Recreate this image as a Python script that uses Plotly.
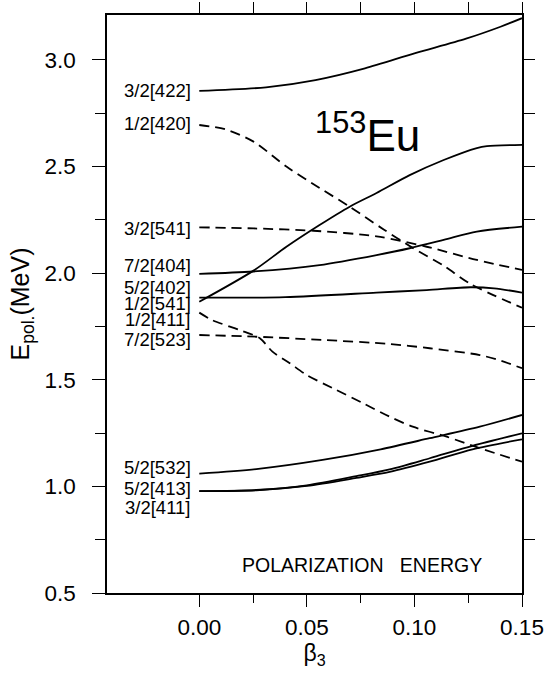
import plotly.graph_objects as go

# ---- data ----
b_422 = [0, 0.031, 0.054, 0.077, 0.100, 0.124, 0.140, 0.15]
e_422 = [2.855, 2.872, 2.906, 2.961, 3.031, 3.100, 3.156, 3.196]

b_420 = [0, 0.012, 0.0252, 0.0405, 0.0559, 0.0699, 0.0857, 0.0990, 0.1136, 0.126, 0.15]
e_420 = [2.695, 2.675, 2.617, 2.500, 2.400, 2.312, 2.205, 2.120, 2.035, 1.950, 1.838]

b_541s = [0, 0.0252, 0.0405, 0.0559, 0.0699, 0.0824, 0.0978, 0.1136, 0.129, 0.1337, 0.15]
e_541s = [1.866, 2.012, 2.124, 2.226, 2.312, 2.376, 2.460, 2.531, 2.587, 2.596, 2.602]

b_541d = [0, 0.0252, 0.0531, 0.0824, 0.1057, 0.129, 0.15]
e_541d = [2.215, 2.210, 2.199, 2.173, 2.124, 2.062, 2.015]

b_404 = [0, 0.0252, 0.0559, 0.0824, 0.0978, 0.1136, 0.129, 0.15]
e_404 = [1.997, 2.008, 2.038, 2.085, 2.117, 2.156, 2.195, 2.218]

b_402 = [0, 0.04, 0.0824, 0.1057, 0.126, 0.137, 0.15]
e_402 = [1.885, 1.888, 1.909, 1.921, 1.934, 1.929, 1.909]

b_411 = [0, 0.006, 0.0186, 0.028, 0.034, 0.0419, 0.0498, 0.062, 0.0759, 0.0885, 0.0992, 0.115, 0.1304, 0.15]
e_411 = [1.815, 1.780, 1.734, 1.696, 1.632, 1.579, 1.523, 1.461, 1.391, 1.327, 1.280, 1.233, 1.179, 1.116]

b_523 = [0, 0.0265, 0.0573, 0.0885, 0.1071, 0.1304, 0.140, 0.15]
e_523 = [1.710, 1.702, 1.687, 1.668, 1.648, 1.616, 1.590, 1.554]

b_532 = [0, 0.0265, 0.0573, 0.0843, 0.1071, 0.1304, 0.15]
e_532 = [1.060, 1.081, 1.124, 1.174, 1.226, 1.280, 1.335]

b_413 = [0, 0.0265, 0.05, 0.073, 0.0885, 0.1071, 0.127, 0.15]
e_413 = [0.978, 0.983, 1.005, 1.048, 1.080, 1.132, 1.190, 1.249]

b_411b = [0, 0.0265, 0.05, 0.073, 0.0885, 0.1071, 0.127, 0.15]
e_411b = [0.978, 0.982, 1.002, 1.040, 1.068, 1.116, 1.174, 1.221]

label_texts = ["3/2[422]", "1/2[420]", "3/2[541]", "7/2[404]", "5/2[402]", "1/2[541]",
               "1/2[411]", "7/2[523]", "5/2[532]", "5/2[413]", "3/2[411]"]
label_e = [2.859, 2.704, 2.210, 2.038, 1.935, 1.860, 1.785, 1.687, 1.091, 0.992, 0.899]

x_major = [0.0, 0.05, 0.10, 0.15]
x_major_text = ["0.00", "0.05", "0.10", "0.15"]
x_minor = [0.025, 0.075, 0.125]
x_top = [0.0, 0.025, 0.05, 0.075, 0.10, 0.125, 0.15]
y_major = [0.5, 1.0, 1.5, 2.0, 2.5, 3.0]
y_major_text = ["0.5", "1.0", "1.5", "2.0", "2.5", "3.0"]
y_minor = [0.75, 1.25, 1.75, 2.25, 2.75]
y_right = [0.75, 1.0, 1.25, 1.5, 1.75, 2.0, 2.25, 2.5, 2.75, 3.0]

X_RANGE = [-0.0429, 0.15]
Y_RANGE = [0.5, 3.211]

FONT = "Liberation Sans, Arial, Helvetica, sans-serif"
DASH = "10px,6px"

curves = [
    (b_422, e_422, "solid"),
    (b_420, e_420, DASH),
    (b_541s, e_541s, "solid"),
    (b_541d, e_541d, DASH),
    (b_404, e_404, "solid"),
    (b_402, e_402, "solid"),
    (b_411, e_411, DASH),
    (b_523, e_523, DASH),
    (b_532, e_532, "solid"),
    (b_413, e_413, "solid"),
    (b_411b, e_411b, "solid"),
]

fig = go.Figure()
for bx, ey, dash in curves:
    fig.add_trace(go.Scatter(
        x=bx, y=ey, mode="lines",
        line=dict(color="black", width=1.8, dash=dash, shape="spline", smoothing=0.8),
        showlegend=False, hoverinfo="skip"))

# invisible trace for top/right tick axes
fig.add_trace(go.Scatter(x=[0.0], y=[1.0], xaxis="x2", yaxis="y2", mode="markers",
                         marker=dict(opacity=0), showlegend=False, hoverinfo="skip"))

for t, e in zip(label_texts, label_e):
    fig.add_annotation(x=-0.003, y=e, text=t, showarrow=False, xanchor="right",
                       yanchor="middle", font=dict(family=FONT, size=18.5, color="black"))

fig.add_annotation(x=0.0783, y=2.66, text="<sup>153</sup>Eu", showarrow=False,
                   xanchor="center", yanchor="middle",
                   font=dict(family=FONT, size=44, color="black"))
fig.add_annotation(x=0.0755, y=0.631, text="POLARIZATION&nbsp;&nbsp;&nbsp;ENERGY", showarrow=False,
                   xanchor="center", yanchor="middle",
                   font=dict(family=FONT, size=19.5, color="black"))

fig.update_layout(
    width=547, height=677,
    margin=dict(l=107, r=25, t=15, b=84, autoexpand=False),
    paper_bgcolor="white", plot_bgcolor="white",
    font=dict(family=FONT, color="black"),
    xaxis=dict(range=X_RANGE, showgrid=False, zeroline=False, automargin=False,
               showline=True, linecolor="black", linewidth=1.5, mirror=True,
               tickmode="array", tickvals=x_major, ticktext=x_major_text,
               ticks="outside", ticklen=12, tickwidth=1.3, tickcolor="black",
               ticklabelstandoff=1,
               minor=dict(tickmode="array", tickvals=x_minor, ticks="outside",
                          ticklen=8, tickwidth=1.3, tickcolor="black", showgrid=False),
               tickfont=dict(family=FONT, size=22.5),
               title=dict(text="β<sub>3</sub>", font=dict(family=FONT, size=23), standoff=4)),
    yaxis=dict(range=Y_RANGE, showgrid=False, zeroline=False, automargin=False,
               showline=True, linecolor="black", linewidth=1.5, mirror=True,
               tickmode="array", tickvals=y_major, ticktext=y_major_text,
               ticks="outside", ticklen=13, tickwidth=1.3, tickcolor="black",
               ticklabelstandoff=12,
               minor=dict(tickmode="array", tickvals=y_minor, ticks="outside",
                          ticklen=10, tickwidth=1.3, tickcolor="black", showgrid=False),
               tickfont=dict(family=FONT, size=22.5),
               title=dict(text="E<sub>pol.</sub>(MeV)", font=dict(family=FONT, size=25), standoff=8)),
    xaxis2=dict(range=X_RANGE, overlaying="x", side="top", anchor="y", automargin=False,
                showgrid=False, zeroline=False, showline=False,
                tickmode="array", tickvals=x_top, showticklabels=False,
                ticks="outside", ticklen=12, tickwidth=1.3, tickcolor="black"),
    yaxis2=dict(range=Y_RANGE, overlaying="y", side="right", anchor="x", automargin=False,
                showgrid=False, zeroline=False, showline=False,
                tickmode="array", tickvals=y_right, showticklabels=False,
                ticks="outside", ticklen=12, tickwidth=1.3, tickcolor="black"),
)

fig.write_html("out.html")
